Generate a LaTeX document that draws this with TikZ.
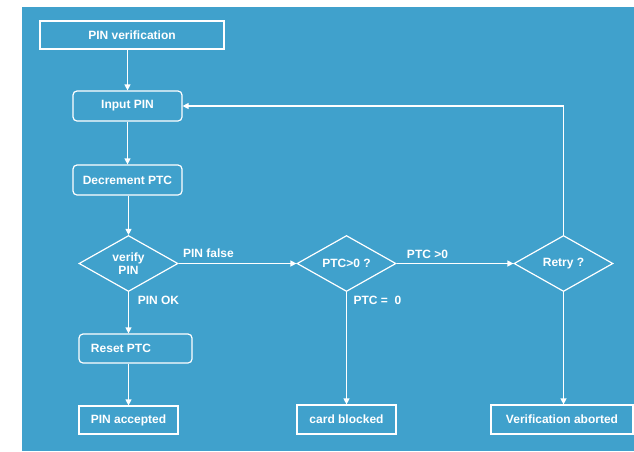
\documentclass[tikz,border=0pt]{standalone}
\usepackage{fontspec}
\setmainfont{Liberation Sans}
\usetikzlibrary{shapes.geometric,arrows.meta}
\definecolor{bg}{RGB}{64,161,204}
\begin{document}
\begin{tikzpicture}[x=1pt,y=-1pt,
  txt/.style={text=white,font=\bfseries\fontsize{12}{14}\selectfont},
  box/.style={txt,draw=white,line width=1.2pt,inner sep=0pt,minimum height=29pt},
  rbox/.style={box,rounded corners=4pt},
  dia/.style={txt,diamond,draw=white,line width=1.2pt,inner sep=0pt,aspect=1.77,minimum width=99pt,minimum height=56pt,align=center},
  arr/.style={draw=white,line width=1.2pt,-{Triangle[width=6pt,length=6pt]}},
  lbl/.style={txt,inner sep=0pt}]
\useasboundingbox (0,0) rectangle (634,451);
\fill[white] (0,0) rectangle (634,451);
\fill[bg] (22,7) rectangle (634,451);
\node[box,minimum width=184pt,minimum height=28pt] (pv) at (132,35) {PIN verification};
\node[rbox,minimum width=109pt,minimum height=30pt] (inp) at (127.5,106) {Input PIN};
\node[rbox,minimum width=109pt,minimum height=30pt] (dec) at (127.5,180) {Decrement PTC};
\node[dia] (vp) at (128.5,263.5) {verify\\[-1pt]PIN};
\node[dia] (ptc) at (346.5,263.5) {PTC>0 ?};
\node[dia] (retry) at (563.5,263.5) {Retry ?};
\node[rbox,minimum width=113pt,minimum height=29pt] (reset) at (135.5,348.5) {Reset PTC\rule{29pt}{0pt}};
\node[box,minimum width=99pt,minimum height=28pt] (acc) at (128.5,420) {PIN accepted};
\node[box,minimum width=99pt] (blk) at (346.5,419.5) {card blocked};
\node[box,minimum width=142pt] (abt) at (562,419.5) {Verification aborted};
\node[lbl] (l1) at (208.5,253) {PIN false};
\node[lbl] (l2) at (427.5,254) {PTC >0};
\node[lbl] (l3) at (158.5,300) {PIN OK};
\node[lbl] (l4) at (377.5,300) {PTC =\ \ 0};
\draw[arr] (inp.north |- pv.south) -- (inp.north);
\draw[arr] (inp.south) -- (dec.north);
\draw[arr] (vp.north |- dec.south) -- (vp.north);
\draw[arr] (vp.south) -- (vp.south |- reset.north);
\draw[arr] (acc.north |- reset.south) -- (acc.north);
\draw[arr] (vp.east) -- (ptc.west);
\draw[arr] (ptc.east) -- (retry.west);
\draw[arr] (ptc.south) -- (blk.north);
\draw[arr] (retry.south) -- (retry.south |- abt.north);
\draw[arr] (retry.north) |- (inp.east);
\end{tikzpicture}
\end{document}
